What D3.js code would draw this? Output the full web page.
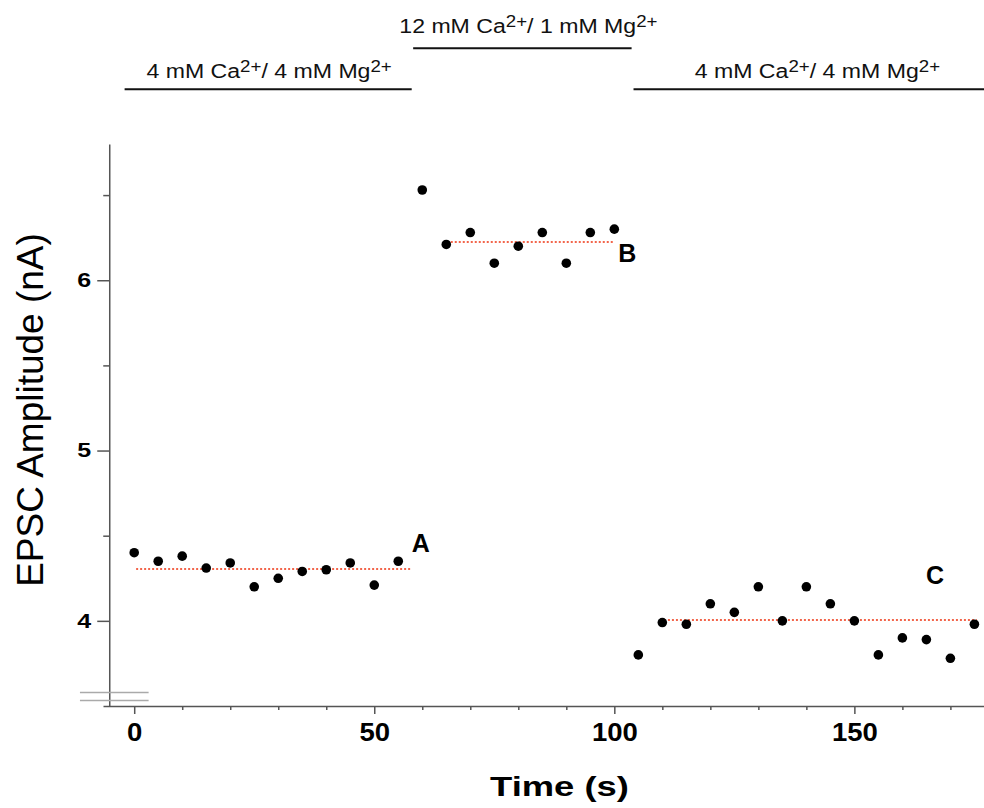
<!DOCTYPE html>
<html>
<head>
<meta charset="utf-8">
<script src="https://cdn.jsdelivr.net/npm/d3@7"></script>
<style>
  body { margin: 0; background: #fff; }
  svg { display: block; font-family: "Liberation Sans", Arial, sans-serif; }
</style>
</head>
<body>
<svg></svg>
<script>
// data
const timesA = [0, 5, 10, 15, 20, 25, 30, 35, 40, 45, 50, 55];
const ampA = [4.40, 4.35, 4.38, 4.31, 4.34, 4.20, 4.25, 4.29, 4.30, 4.34, 4.21, 4.35];
const timesB = [60, 65, 70, 75, 80, 85, 90, 95, 100];
const ampB = [6.53, 6.21, 6.28, 6.10, 6.20, 6.28, 6.10, 6.28, 6.30];
const timesC = [105, 110, 115, 120, 125, 130, 135, 140, 145, 150, 155, 160, 165, 170, 175];
const ampC = [3.80, 3.99, 3.98, 4.10, 4.05, 4.20, 4.00, 4.20, 4.10, 4.00, 3.80, 3.90, 3.89, 3.78, 3.98];

// mean lines
const meanNames = ["A", "B", "C"];
const meanStart = [0.4, 65.1, 109.5];
const meanEnd = [57.6, 100.0, 175.5];
const meanValue = [4.305, 6.225, 4.005];
const meanLabelT = [57.8, 100.8, 164.9];
const meanLabelV = [4.402, 6.107, 4.216];

// solution bars on top
const phaseCa = ["4", "12", "4"];
const phaseMg = ["4", "1", "4"];
const phaseStart = [-2, 58.1, 104];
const phaseEnd = [57.8, 103.6, 177.5];
const phaseLabelT = [28.1, 82.1, 142.3];
const phaseRaised = [false, true, false];

const yMajor = [4, 5, 6];
const yMinor = [4.5, 5.5, 6.5];
const xMajor = [0, 50, 100, 150];
const xMinor = [10, 20, 30, 40, 60, 70, 80, 90, 110, 120, 130, 140, 160, 170];
const yBreak = [3.58, 3.533];

const width = 984, height = 808;
const fontFam = '"Liberation Sans", Arial, sans-serif';
const svg = d3.select("svg").attr("width", width).attr("height", height);

const x = d3.scaleLinear().domain([-6.5, 177]).range([103, 984]);
const y = d3.scaleLinear().domain([3.5, 6.8]).range([706, 144]);
const yAxisAt = -5.2;
const axisColor = "#555";

// stretch text horizontally like the source figure
function stretch(sel, sx) {
  sel.each(function () {
    const t = d3.select(this);
    const tx = +t.attr("x") || 0;
    t.attr("x", 0).attr("transform", `translate(${tx},0) scale(${sx},1)`);
  });
}

// x axis
const gx = svg.append("g").attr("transform", `translate(0,${y(3.5)})`);
gx.append("g")
  .call(d3.axisBottom(x).tickValues(xMinor).tickSize(4).tickSizeOuter(0).tickFormat(""))
  .call(g => g.select(".domain").remove());
gx.append("g")
  .call(d3.axisBottom(x).tickValues(xMajor).tickSize(8).tickPadding(9).tickSizeOuter(0).tickFormat(d3.format("d")))
  .attr("font-family", fontFam)
  .call(g => g.selectAll("text").attr("font-size", 25).attr("font-weight", "bold").attr("fill", "#000"))
  .call(g => stretch(g.selectAll("text"), 1.1));
gx.selectAll("path, line").attr("stroke", axisColor).attr("stroke-width", 1.5);

// y axis
const gy = svg.append("g").attr("transform", `translate(${x(yAxisAt)},0)`);
gy.append("g")
  .call(d3.axisLeft(y).tickValues(yMinor).tickSize(6).tickSizeOuter(0).tickFormat(""))
  .call(g => g.select(".domain").remove());
gy.append("g")
  .call(d3.axisLeft(y).tickValues(yMajor).tickSize(12).tickPadding(6).tickSizeOuter(0).tickFormat(d3.format("d")))
  .attr("font-family", fontFam)
  .call(g => g.selectAll("text").attr("font-size", 20).attr("font-weight", "bold").attr("fill", "#000"))
  .call(g => stretch(g.selectAll("text"), 1.25));
gy.selectAll("path, line").attr("stroke", axisColor).attr("stroke-width", 1.5);

// axis break marks
svg.selectAll(".break")
  .data(yBreak)
  .enter()
  .append("line")
  .attr("class", "break")
  .attr("x1", x(-11.3))
  .attr("x2", x(3))
  .attr("y1", d => y(d))
  .attr("y2", d => y(d))
  .attr("stroke", "#aaa")
  .attr("stroke-width", 1.5);

// axis titles
svg.append("text")
  .attr("transform", `translate(43,410) rotate(-90)`)
  .attr("text-anchor", "middle")
  .attr("font-size", 37)
  .attr("fill", "#000")
  .text("EPSC Amplitude (nA)");

svg.append("text")
  .attr("transform", `translate(559.5,796) scale(1.3,1)`)
  .attr("text-anchor", "middle")
  .attr("font-size", 28)
  .attr("font-weight", "bold")
  .attr("fill", "#000")
  .text("Time (s)");

// mean lines
meanNames.forEach((n, i) => {
  svg.append("line")
    .attr("x1", x(meanStart[i]))
    .attr("x2", x(meanEnd[i]))
    .attr("y1", y(meanValue[i]))
    .attr("y2", y(meanValue[i]))
    .attr("stroke", "#ee3311")
    .attr("stroke-width", 1.5)
    .attr("stroke-dasharray", "2,2");
  svg.append("text")
    .attr("x", x(meanLabelT[i]))
    .attr("y", y(meanLabelV[i]))
    .attr("font-size", 25)
    .attr("font-weight", "bold")
    .attr("fill", "#000")
    .text(n);
});

// points
const points = []
  .concat(timesA.map((t, i) => [t, ampA[i]]))
  .concat(timesB.map((t, i) => [t, ampB[i]]))
  .concat(timesC.map((t, i) => [t, ampC[i]]));

svg.selectAll(".dot")
  .data(points)
  .enter()
  .append("circle")
  .attr("class", "dot")
  .attr("cx", d => x(d[0]))
  .attr("cy", d => y(d[1]))
  .attr("r", 4.8)
  .attr("fill", "#000");

// solution bars
phaseCa.forEach((ca, i) => {
  const lineY = phaseRaised[i] ? 48.3 : 89.3;
  const textY = phaseRaised[i] ? 33.3 : 78.3;
  svg.append("line")
    .attr("x1", x(phaseStart[i]))
    .attr("x2", x(phaseEnd[i]))
    .attr("y1", lineY)
    .attr("y2", lineY)
    .attr("stroke", "#111")
    .attr("stroke-width", 2);
  const t = svg.append("text")
    .attr("transform", `translate(${x(phaseLabelT[i])},${textY}) scale(1.1,1)`)
    .attr("text-anchor", "middle")
    .attr("font-size", 21)
    .attr("fill", "#111");
  t.append("tspan").text(`${ca} mM Ca`);
  t.append("tspan").attr("font-size", 17).attr("dy", -6).text("2+");
  t.append("tspan").attr("dy", 6).text(`/ ${phaseMg[i]} mM Mg`);
  t.append("tspan").attr("font-size", 17).attr("dy", -6).text("2+");
});
</script>
</body>
</html>
